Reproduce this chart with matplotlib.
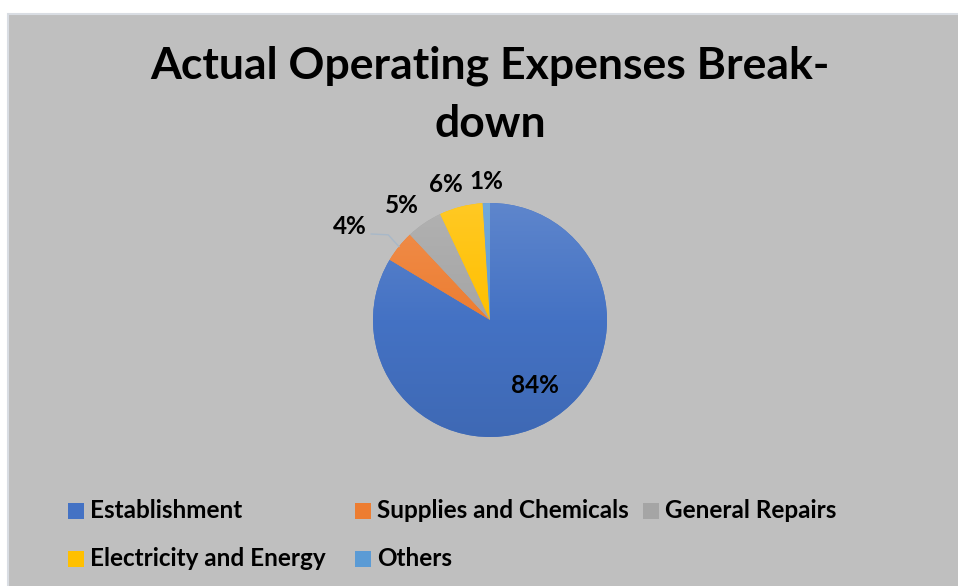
import matplotlib
matplotlib.use("Agg")
import matplotlib.pyplot as plt
from matplotlib.patches import Rectangle
from matplotlib.colors import LinearSegmentedColormap, to_rgb
import numpy as np

categories = ["Establishment", "Supplies and Chemicals", "General Repairs",
              "Electricity and Energy", "Others"]
values = [83.6, 4.4, 5.0, 6.0, 1.0]
pct_labels = ["84%", "4%", "5%", "6%", "1%"]
colors = ["#4472C4", "#ED7D31", "#A5A5A5", "#FFC000", "#5B9BD5"]

W, H = 958, 586
FONT = "Lato"
fig = plt.figure(figsize=(W / 100, H / 100), dpi=100)
fig.patch.set_facecolor("white")

# chart area background
fig.patches.append(Rectangle((8 / W, -0.05), 1.1, 1.05 - 14 / H, transform=fig.transFigure,
                             facecolor="#bfbfbf", edgecolor="#d9dde3", linewidth=1.5, zorder=-5))

# title
fig.text(490 / W, 1 - 78 / H, "Actual Operating Expenses Break-", ha="center", va="baseline",
         fontsize=32, fontweight="bold", family=FONT)
fig.text(490 / W, 1 - 137 / H, "down", ha="center", va="baseline",
         fontsize=32, fontweight="bold", family=FONT)

# pie axes
cx, cy, r = 490, 320, 117
half = 150
ax = fig.add_axes([(cx - half) / W, (H - cy - half) / H, 2 * half / W, 2 * half / H])
lim = half / r
ax.axis("off")
wedges, _ = ax.pie(values, colors=colors, startangle=90, counterclock=False, radius=1,
                   wedgeprops=dict(linewidth=0))

# subtle vertical gradient fill like the Excel style
grad = np.linspace(0, 1, 256).reshape(-1, 1)
for wdg, col in zip(wedges, colors):
    base = np.array(to_rgb(col))
    top = base + (1 - base) * 0.14
    bottom = base * 0.92
    cmap = LinearSegmentedColormap.from_list("g", [bottom, base, top])
    im = ax.imshow(grad, cmap=cmap, extent=(-1, 1, -1, 1), origin="lower",
                   aspect="auto", interpolation="bilinear", zorder=wdg.get_zorder() + 0.1)
    im.set_clip_path(wdg)
ax.set_xlim(-lim, lim)
ax.set_ylim(-lim, lim)

# data label positions (label placement, data coords of pie axes)
label_pos = [(0.385, -0.56), (-1.20, 0.80), (-0.752, 0.975), (-0.376, 1.16), (-0.034, 1.185)]
for (lx, ly), t in zip(label_pos, pct_labels):
    ax.text(lx, ly, t, ha="center", va="center", fontsize=17.5, fontweight="bold",
            family=FONT, clip_on=False, zorder=5)

# leader line for the small "4%" label
w = wedges[1]
mid = np.deg2rad((w.theta1 + w.theta2) / 2)
ex, ey = np.cos(mid), np.sin(mid)
ax.plot([-1.015, -0.87, ex], [0.735, 0.728, ey], color="#a8b8c8", lw=1, clip_on=False)

# legend (manual layout, Excel-like fixed columns)
leg_x = [68, 355, 643]
leg_y = [511, 559]
for i, (name, col) in enumerate(zip(categories, colors)):
    row, c = divmod(i, 3)
    x, y = leg_x[c], leg_y[row]
    fig.patches.append(Rectangle((x / W, (H - y - 8) / H), 16 / W, 16 / H,
                                 transform=fig.transFigure, facecolor=col, edgecolor="none"))
    fig.text((x + 22) / W, (H - y) / H, name, ha="left", va="center",
             fontsize=17.5, fontweight="bold", family=FONT)

fig.savefig("out.png", dpi=100, facecolor=fig.get_facecolor())
